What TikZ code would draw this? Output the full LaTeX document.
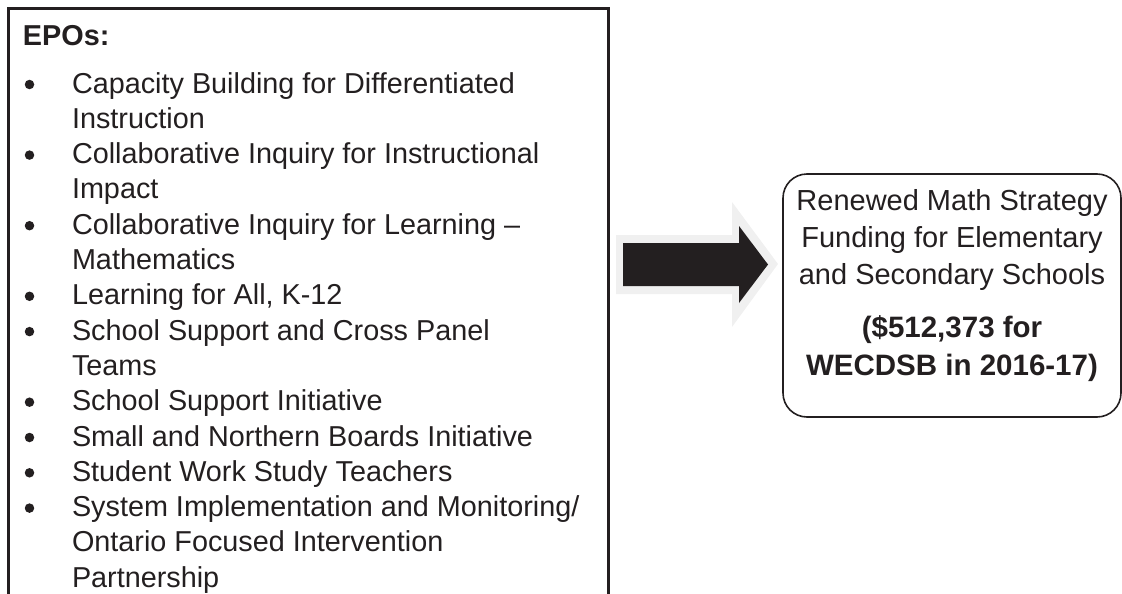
\documentclass[tikz,border=0pt]{standalone}
\usepackage{fontspec}
\setmainfont{Liberation Sans}
\begin{document}
\definecolor{ink}{HTML}{231F20}
\definecolor{halo}{HTML}{F0F0F0}
\begin{tikzpicture}[x=1pt,y=-1pt,
  every node/.style={inner sep=0pt,outer sep=0pt,text=ink},
  lefttxt/.style={anchor=base west,font=\fontsize{28.8}{35}\selectfont},
  headtxt/.style={anchor=base west,font=\fontsize{28.8}{35}\selectfont\bfseries},
  righttxt/.style={anchor=base,font=\fontsize{29}{37}\selectfont},
  rightbold/.style={anchor=base,font=\fontsize{29.5}{37}\selectfont\bfseries},
  bul/.style={circle,fill=ink,minimum size=9.5pt}]
\useasboundingbox (0,0) rectangle (1122,594);

% list frame, open at the bottom
\draw[ink,line width=3pt,line join=miter] (8,610) -- (8,9) -- (608,9) -- (608,610);

% list heading and items
\node[headtxt] (hd) at (23,46) {EPOs:};
\node[lefttxt] (t1)  at (72,93)    {Capacity Building for Differentiated};
\node[lefttxt] (t2)  at (72,128.3) {Instruction};
\node[lefttxt] (t3)  at (72,163.6) {Collaborative Inquiry for Instructional};
\node[lefttxt] (t4)  at (72,198.9) {Impact};
\node[lefttxt] (t5)  at (72,234.2) {Collaborative Inquiry for Learning –};
\node[lefttxt] (t6)  at (72,269.5) {Mathematics};
\node[lefttxt] (t7)  at (72,304.8) {Learning for All, K-12};
\node[lefttxt] (t8)  at (72,340.1) {School Support and Cross Panel};
\node[lefttxt] (t9)  at (72,375.4) {Teams};
\node[lefttxt] (t10) at (72,410.7) {School Support Initiative};
\node[lefttxt] (t11) at (72,446)   {Small and Northern Boards Initiative};
\node[lefttxt] (t12) at (72,481.3) {Student Work Study Teachers};
\node[lefttxt] (t13) at (72,516.6) {System Implementation and Monitoring/};
\node[lefttxt] (t14) at (72,551.9) {Ontario Focused Intervention};
\node[lefttxt] (t15) at (72,587.2) {Partnership};

% bullets
\foreach \n/\y in {b1/93,b3/163.6,b5/234.2,b7/304.8,b8/340.1,b10/410.7,b11/446,b12/481.3,b13/516.6}
  \node[bul] (\n) at (29.5,\y-8.5) {};

% block arrow with its light halo
\fill[halo] (616,235) -- (732,235) -- (732,202) -- (778,264) -- (732,327) -- (732,294) -- (616,294) -- cycle;
\fill[ink] (623,243) -- (739,243) -- (739,226) -- (768,264.5) -- (739,303) -- (739,286) -- (623,286) -- cycle;

% funding box
\draw[ink,line width=1.6pt,rounded corners=24pt] (783,174) rectangle (1121,417);
\node[righttxt] (r1) at (952,210) {Renewed Math Strategy};
\node[righttxt] (r2) at (952,247) {Funding for Elementary};
\node[righttxt] (r3) at (952,284) {and Secondary Schools};
\node[rightbold] (r4) at (952,337) {(\$512,373 for};
\node[rightbold] (r5) at (952,375) {WECDSB in 2016-17)};
\end{tikzpicture}
\end{document}
